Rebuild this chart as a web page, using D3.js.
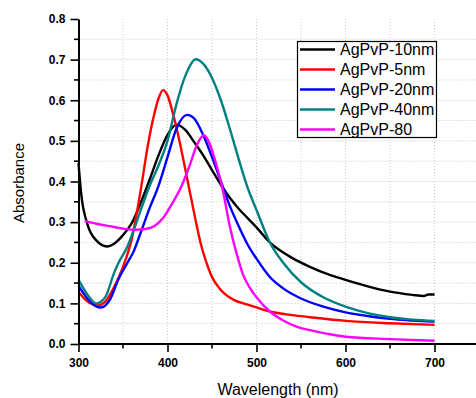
<!DOCTYPE html>
<html>
<head>
<meta charset="utf-8">
<script src="https://cdn.jsdelivr.net/npm/d3@7"></script>
<style>
  html, body { margin: 0; padding: 0; background: #fff; }
  svg { display: block; font-family: "Liberation Sans", Arial, sans-serif; }
</style>
</head>
<body>
<svg id="chart" width="476" height="398"></svg>
<script>
// ---- data ----
const seriesNames = ["AgPvP-10nm", "AgPvP-5nm", "AgPvP-20nm", "AgPvP-40nm", "AgPvP-80"];
const seriesColors = ["#000000", "#ff0000", "#0000ff", "#008080", "#ff00ff"];

const wl10 = [300, 303, 310, 320, 332, 340, 350, 360, 370, 380, 390, 400, 410, 420, 430, 440, 450, 460, 470, 480, 490, 500, 515, 540, 560, 580, 600, 625, 650, 675, 688, 693, 700];
const ab10 = [0.445, 0.37, 0.295, 0.255, 0.240, 0.247, 0.268, 0.298, 0.348, 0.405, 0.465, 0.515, 0.540, 0.527, 0.497, 0.465, 0.428, 0.392, 0.360, 0.333, 0.310, 0.287, 0.250, 0.212, 0.190, 0.172, 0.158, 0.142, 0.129, 0.121, 0.118, 0.122, 0.122];

const wl5 = [300, 310, 322, 330, 340, 350, 360, 370, 378, 385, 390, 395, 400, 407, 414, 420, 426, 432, 437, 443, 450, 458, 465, 475, 490, 500, 515, 540, 560, 600, 650, 700];
const ab5 = [0.128, 0.105, 0.095, 0.104, 0.14, 0.19, 0.26, 0.38, 0.49, 0.565, 0.605, 0.625, 0.612, 0.56, 0.494, 0.43, 0.365, 0.30, 0.25, 0.205, 0.165, 0.138, 0.122, 0.108, 0.097, 0.09, 0.08, 0.071, 0.066, 0.057, 0.051, 0.047];

const wl20 = [300, 310, 318, 325, 335, 345, 355, 362, 370, 380, 390, 400, 410, 422, 430, 440, 450, 460, 470, 480, 490, 500, 515, 530, 550, 575, 600, 625, 650, 675, 700];
const ab20 = [0.143, 0.112, 0.095, 0.090, 0.108, 0.16, 0.2, 0.228, 0.275, 0.335, 0.39, 0.46, 0.53, 0.564, 0.555, 0.515, 0.46, 0.40, 0.34, 0.29, 0.245, 0.21, 0.165, 0.137, 0.112, 0.092, 0.078, 0.069, 0.062, 0.058, 0.055];

const wl40 = [300, 310, 320, 330, 340, 345, 355, 362, 370, 380, 390, 400, 410, 420, 432, 440, 450, 460, 470, 480, 490, 500, 515, 530, 550, 575, 600, 625, 650, 675, 700];
const ab40 = [0.158, 0.122, 0.100, 0.115, 0.175, 0.2, 0.24, 0.28, 0.33, 0.39, 0.44, 0.50, 0.59, 0.66, 0.701, 0.69, 0.655, 0.60, 0.53, 0.455, 0.385, 0.33, 0.25, 0.20, 0.152, 0.115, 0.092, 0.076, 0.066, 0.060, 0.057];

const wl80 = [307, 320, 335, 350, 363, 375, 385, 395, 405, 415, 425, 433, 441, 448, 455, 462, 470, 478, 485, 492, 500, 515, 530, 545, 560, 580, 600, 650, 700];
const ab80 = [0.303, 0.296, 0.290, 0.284, 0.281, 0.283, 0.29, 0.31, 0.345, 0.385, 0.44, 0.49, 0.514, 0.49, 0.44, 0.38, 0.29, 0.22, 0.17, 0.14, 0.115, 0.08, 0.058, 0.043, 0.034, 0.025, 0.018, 0.012, 0.008];

const xTickValues = [300, 400, 500, 600, 700];
const yTickValues = [0.0, 0.1, 0.2, 0.3, 0.4, 0.5, 0.6, 0.7, 0.8];
const xLabel = "Wavelength (nm)";
const yLabel = "Absorbance";

// ---- build ----
const seriesWl = [wl10, wl5, wl20, wl40, wl80];
const seriesAb = [ab10, ab5, ab20, ab40, ab80];
const series = seriesNames.map((name, i) => ({
  name, color: seriesColors[i],
  points: seriesWl[i].map((w, j) => ({ w, a: seriesAb[i][j] }))
}));

const svg = d3.select("#chart");
const x = d3.scaleLinear().domain([300, 750]).range([78.5, 479]);
const y = d3.scaleLinear().domain([0, 0.8]).range([344, 19]);

// grid
const gridX = d3.range(350, 751, 50);
const gridY = d3.range(0.05, 0.76, 0.05);
svg.append("g").selectAll("line").data(gridX).join("line")
  .attr("x1", d => x(d)).attr("x2", d => x(d))
  .attr("y1", y(0.8)).attr("y2", y(0))
  .attr("stroke", "#c8c8c8").attr("stroke-width", 1).attr("stroke-dasharray", "1,2");
svg.append("g").selectAll("line").data(gridY).join("line")
  .attr("x1", x(300)).attr("x2", 476)
  .attr("y1", d => y(d)).attr("y2", d => y(d))
  .attr("stroke", "#c8c8c8").attr("stroke-width", 1).attr("stroke-dasharray", "1,2");

// lines
const line = d3.line().x(d => x(d.w)).y(d => y(d.a)).curve(d3.curveMonotoneX);
svg.append("g").selectAll("path").data(series).join("path")
  .attr("d", d => line(d.points))
  .attr("fill", "none")
  .attr("stroke", d => d.color)
  .attr("stroke-width", 2.4)
  .attr("stroke-linejoin", "round");

// axes
const xAxis = d3.axisBottom(x).tickValues(xTickValues).tickFormat(d3.format("d")).tickSize(8).tickSizeOuter(0);
const gx = svg.append("g").attr("transform", `translate(0,${y(0)})`).call(xAxis);
gx.append("g").selectAll("line").data(d3.range(350, 751, 100)).join("line")
  .attr("x1", d => x(d)).attr("x2", d => x(d)).attr("y1", 0).attr("y2", 4.5)
  .attr("stroke", "#000").attr("stroke-width", 1.6);

const yAxis = d3.axisLeft(y).tickValues(yTickValues).tickFormat(d3.format(".1f")).tickSize(8).tickSizeOuter(0);
const gy = svg.append("g").attr("transform", `translate(${x(300)},0)`).call(yAxis);
gy.append("g").selectAll("line").data(d3.range(0.05, 0.8, 0.1)).join("line")
  .attr("x1", 0).attr("x2", -4.5).attr("y1", d => y(d)).attr("y2", d => y(d))
  .attr("stroke", "#000").attr("stroke-width", 1.6);

[gx, gy].forEach(g => {
  g.select(".domain").attr("stroke", "#000").attr("stroke-width", 2);
  g.selectAll(".tick line").attr("stroke", "#000").attr("stroke-width", 1.6);
  g.selectAll(".tick text").attr("fill", "#000")
    .style("font-family", "'Liberation Sans', Arial, sans-serif")
    .style("font-size", "12px").style("font-weight", "bold");
});
gx.selectAll(".tick text").attr("dy", "0").attr("y", 23);
gy.selectAll(".tick text").attr("x", -13);
gx.select(".domain").attr("d", `M${x(300)},0H476`);

// axis titles
svg.append("text").attr("x", 278).attr("y", 394.5).attr("text-anchor", "middle")
  .style("font-size", "16px").attr("fill", "#000").text(xLabel);
svg.append("text").attr("transform", "translate(24,183) rotate(-90)").attr("text-anchor", "middle")
  .style("font-size", "15px").attr("fill", "#000").text(yLabel);

// legend
const lg = svg.append("g");
lg.append("rect").attr("x", 297.5).attr("y", 41.5).attr("width", 139).attr("height", 96)
  .attr("fill", "#fff").attr("stroke", "#000").attr("stroke-width", 1.2);
const items = lg.selectAll("g.item").data(series).join("g").attr("class", "item")
  .attr("transform", (d, i) => `translate(0,${49.5 + i * 20})`);
items.append("line").attr("x1", 300).attr("x2", 335).attr("y1", 0).attr("y2", 0)
  .attr("stroke", d => d.color).attr("stroke-width", 2.5);
items.append("text").attr("x", 340).attr("y", 0).attr("dy", "0.36em")
  .style("font-size", "16px").attr("fill", "#000").text(d => d.name);
</script>
</body>
</html>
